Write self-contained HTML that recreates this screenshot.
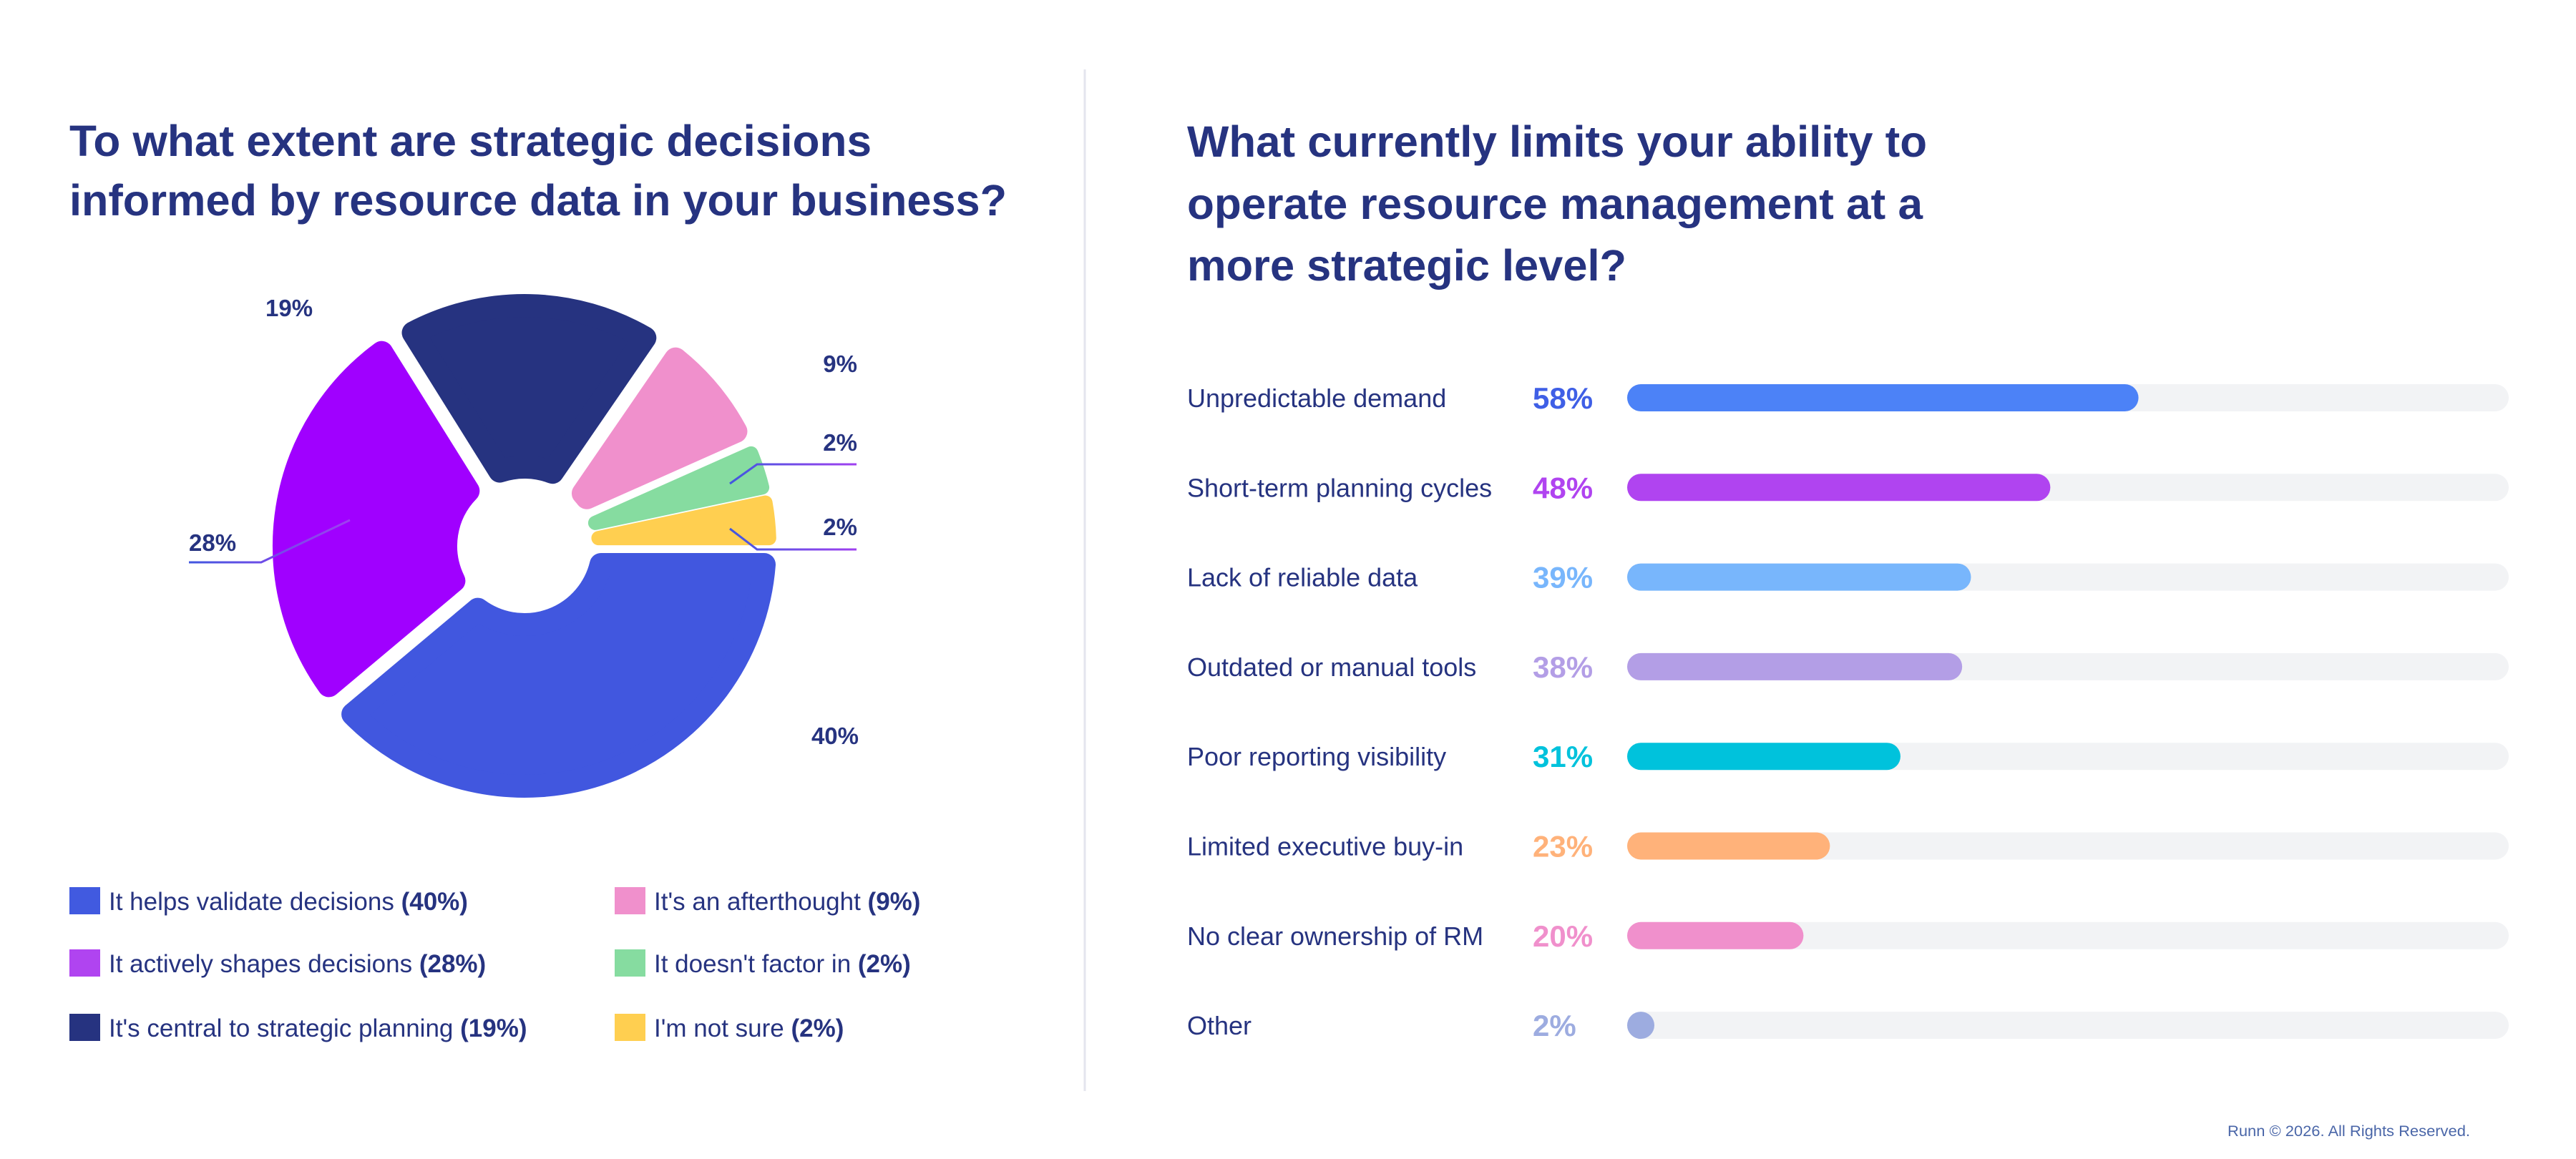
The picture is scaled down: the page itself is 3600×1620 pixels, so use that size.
<!DOCTYPE html>
<html><head><meta charset="utf-8">
<style>
html,body{margin:0;padding:0;background:#fff;}
svg{display:block;font-family:"Liberation Sans",Arial,sans-serif;}
</style></head>
<body>
<svg id="chart" width="3600" height="1620" viewBox="0 0 3600 1620" xmlns="http://www.w3.org/2000/svg">
<defs>
<linearGradient id="lg" x1="0" x2="1" y1="0" y2="0"><stop offset="0" stop-color="#4157DF"/><stop offset="1" stop-color="#A040F0"/></linearGradient>
</defs>
<g fill="#263380" font-weight="bold" font-size="61">
<text x="97" y="218" textLength="1121" lengthAdjust="spacingAndGlyphs">To what extent are strategic decisions</text>
<text x="97" y="301" textLength="1310" lengthAdjust="spacingAndGlyphs">informed by resource data in your business?</text>
</g>
<line x1="1516" y1="97" x2="1516" y2="1525" stroke="#E4E5EE" stroke-width="3"/>
<g fill="#263380" font-weight="bold" font-size="61">
<text x="1659" y="219" textLength="1034" lengthAdjust="spacingAndGlyphs">What currently limits your ability to</text>
<text x="1659" y="306" textLength="1028" lengthAdjust="spacingAndGlyphs">operate resource management at a</text>
<text x="1659" y="392" textLength="614" lengthAdjust="spacingAndGlyphs">more strategic level?</text>
</g>
<g id="pie"></g>
<g id="pielabels"></g>
<g id="legend"></g>
<g id="bars"></g>
<text x="3113" y="1588" textLength="339" lengthAdjust="spacingAndGlyphs" font-size="21" fill="#4A66A8">Runn © 2026. All Rights Reserved.</text>
</svg>
<script>
const pieLabels = ["It helps validate decisions", "It actively shapes decisions", "It's central to strategic planning", "It's an afterthought", "It doesn't factor in", "I'm not sure"];
const pieValues = [40, 28, 19, 9, 2, 2];
const pieColors = ["#4157DF", "#A000FF", "#263380", "#F090CC", "#86DCA0", "#FFCF50"];
const legendColors = ["#415AE0", "#B044F0", "#263380", "#F090CC", "#86DCA0", "#FFCF50"];

const barCategories = ["Unpredictable demand", "Short-term planning cycles", "Lack of reliable data", "Outdated or manual tools", "Poor reporting visibility", "Limited executive buy-in", "No clear ownership of RM", "Other"];
const barValues = [58, 48, 39, 38, 31, 23, 20, 2];
const barColors = ["#4C82F7", "#B044F0", "#78B6FC", "#B39EE6", "#00C2DC", "#FFB27A", "#F090CC", "#9DACE0"];
const textColors = ["#3F5FE6", "#B044F0", "#78B6FC", "#B39EE6", "#00C2DC", "#FFB27A", "#F090CC", "#9DACE0"];

const NS = "http://www.w3.org/2000/svg";
function mk(tag, attrs, parent) {
  const e = document.createElementNS(NS, tag);
  for (const k in attrs) e.setAttribute(k, attrs[k]);
  parent.appendChild(e);
  return e;
}
// ---- donut
const cx = 733, cy = 763, rOut = 352, rIn = 94, gapHalf = 10, rc = 16, startDeg = 90, minSpan = 12;
const total = pieValues.reduce((a, b) => a + b, 0);
let spans = pieValues.map(v => v / total * 360);
const smallIdx = spans.map((s, i) => s < minSpan ? i : -1).filter(i => i >= 0);
if (smallIdx.length) {
  const fixed = smallIdx.length * minSpan;
  const restSum = spans.reduce((a, s, i) => smallIdx.includes(i) ? a : a + s, 0);
  spans = spans.map((s, i) => smallIdx.includes(i) ? minSpan : s * (360 - fixed) / restSum);
}
function pt(r, deg) { const a = (deg - 90) * Math.PI / 180; return [cx + r * Math.cos(a), cy + r * Math.sin(a)]; }
const pie = document.getElementById('pie');
let acc = startDeg;
spans.forEach((span, i) => {
  const rcc = span < 20 ? 10 : rc;
  const R = rOut - rcc, r0 = rIn + rcc;
  const D = Math.min(gapHalf + rcc, (rIn + 10) * Math.sin(span / 2 * Math.PI / 180));
  const a0 = acc, a1 = acc + span, mid = acc + span / 2;
  const dO = Math.asin(D / R) * 180 / Math.PI;
  const s0 = a0 + dO, s1 = a1 - dO;
  const p1 = pt(R, s0), p2 = pt(R, s1);
  const large = (s1 - s0) > 180 ? 1 : 0;
  let d = `M${p1[0]},${p1[1]} A${R},${R} 0 ${large} 1 ${p2[0]},${p2[1]} `;
  const apex = D / Math.sin(span / 2 * Math.PI / 180);
  if (apex >= r0) {
    const ap = pt(apex, mid);
    d += `L${ap[0]},${ap[1]} Z`;
  } else {
    const dI = Math.asin(D / r0) * 180 / Math.PI;
    const q1 = pt(r0, a1 - dI), q2 = pt(r0, a0 + dI);
    const l2 = (a1 - a0 - 2 * dI) > 180 ? 1 : 0;
    d += `L${q1[0]},${q1[1]} A${r0},${r0} 0 ${l2} 0 ${q2[0]},${q2[1]} Z`;
  }
  const p = mk('path', {d: d, fill: pieColors[i], stroke: pieColors[i], 'stroke-width': rcc * 2, 'stroke-linejoin': 'round'}, pie);
  
  
  acc += span;
});
// ---- donut value labels (leader lines; layout positions)
const pl = document.getElementById('pielabels');
const leaderPaths = [
  "M848,1057 L1202,1057",
  "M489,727 L365,786 L264,786",
  "M353,457 L644,457",
  "M927,548 L1202,548",
  "M1020,676 L1058,649 L1197,649",
  "M1020,739 L1058,768 L1197,768"
];
const labelPos = [[1200,1040,'end'],[264,770,'start'],[371,442,'start'],[1198,520,'end'],[1198,630,'end'],[1198,748,'end']];
pieValues.forEach((v, i) => {
  const ln = mk('path', {d: leaderPaths[i], fill: 'none', stroke: 'url(#lg)', 'stroke-width': 3}, pl);
  
  
  const t = mk('text', {x: labelPos[i][0], y: labelPos[i][1], 'text-anchor': labelPos[i][2], 'font-size': 33, 'font-weight': 'bold', fill: '#263380'}, pl);
  t.textContent = v + '%';
  
  
});
// ---- legend
const lg = document.getElementById('legend');
pieLabels.forEach((lab, i) => {
  const col = i < 3 ? 0 : 1, row = i % 3;
  const x = col ? 859 : 97, y = [1240, 1327, 1417][row];
  const r = mk('rect', {x: x, y: y, width: 43, height: 38, fill: legendColors[i]}, lg);
  
  
  const t = mk('text', {x: x + 55, y: y + 32, 'font-size': 35, fill: '#263380'}, lg);
  
  
  t.appendChild(document.createTextNode(lab + ' '));
  const b = mk('tspan', {'font-weight': 'bold'}, t);
  b.textContent = '(' + pieValues[i] + '%)';
});
// ---- bars
const bars = document.getElementById('bars');
const trackX = 2274, trackW = 1232, barH = 38, row0 = 556, rowStep = 125.3;
const xScale = v => v / 100 * trackW;
barCategories.forEach((c, i) => {
  const yc = row0 + i * rowStep;
  const t = mk('text', {x: 1659, y: yc + 13, 'font-size': 36, fill: '#263380'}, bars);
  t.textContent = c;
  
  
  const pv = mk('text', {x: 2142, y: yc + 15, 'font-size': 42, 'font-weight': 'bold', fill: textColors[i]}, bars);
  pv.textContent = barValues[i] + '%';
  
  
  const tr = mk('rect', {x: trackX, y: yc - barH / 2, width: trackW, height: barH, rx: barH / 2, fill: '#F2F3F5'}, bars);
  
  
  const w = Math.max(xScale(barValues[i]), barH);
  const b = mk('rect', {x: trackX, y: yc - barH / 2, width: w, height: barH, rx: barH / 2, fill: barColors[i]}, bars);
  
  
});
</script>
</body></html>
